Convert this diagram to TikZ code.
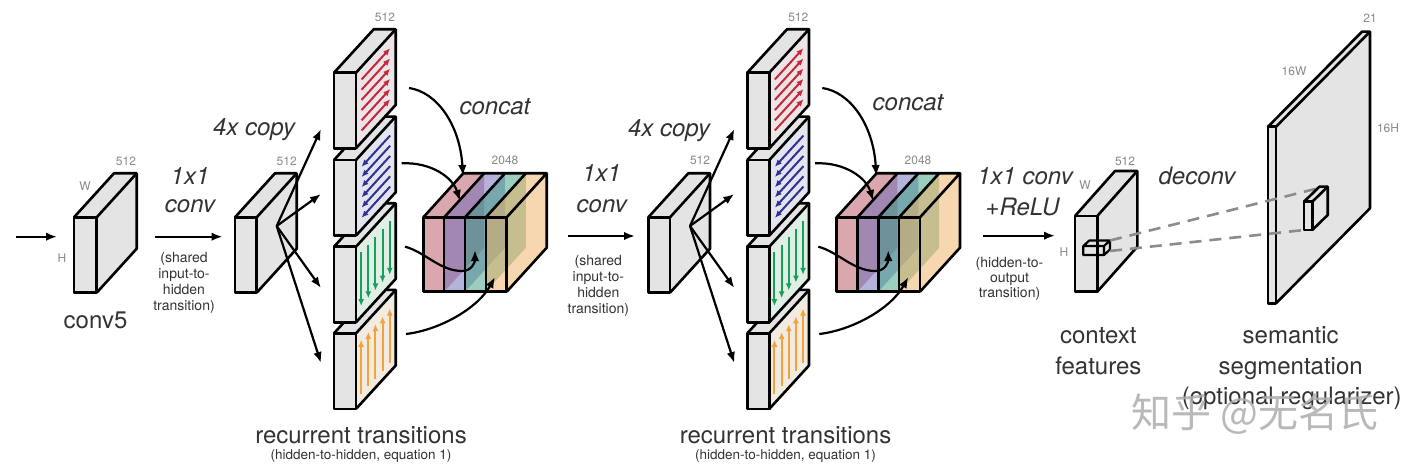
\documentclass[tikz,border=0pt]{standalone}
\usepackage{fontspec}
\setmainfont{TeX Gyre Heros}
\newfontfamily\cjkfont{Noto Sans CJK SC}
\usetikzlibrary{arrows.meta}
\definecolor{txt}{HTML}{333333}
\definecolor{lbl}{HTML}{8A8A8A}
\definecolor{facegray}{HTML}{E4E4E4}
\definecolor{sidered}{HTML}{ECE4E6}
\definecolor{sideblue}{HTML}{E4E4EE}
\definecolor{sidegreen}{HTML}{E0EEE6}
\definecolor{sideorange}{HTML}{F1EBE1}
\definecolor{arrred}{HTML}{C4283A}
\definecolor{arrblue}{HTML}{2E3192}
\definecolor{arrgreen}{HTML}{17A05A}
\definecolor{arrorange}{HTML}{F4A23C}
\definecolor{slabred}{HTML}{B85060}
\definecolor{slabblue}{HTML}{6A68B8}
\definecolor{slabgreen}{HTML}{3A9E80}
\definecolor{slaborange}{HTML}{F0B060}
\definecolor{dashgray}{HTML}{8C8C8C}

\tikzset{
 outl/.style={draw=black, line width=2.6pt, line join=round},
 conn/.style={draw=black, line width=2.2pt, -{Latex[length=11pt,width=8.5pt]}},
 mini/.style={line width=2pt, -{Latex[length=7pt,width=6pt]}},
 bigtxt/.style={font=\fontsize{24}{28}\selectfont, text=txt, inner sep=0pt},
 bigit/.style={font=\fontsize{24}{28}\selectfont\itshape, text=txt, inner sep=0pt},
 smalltxt/.style={font=\fontsize{14}{16}\selectfont, text=txt, align=center, inner sep=0pt},
 subtxt/.style={font=\fontsize{13.5}{16}\selectfont, text=txt, inner sep=0pt},
 dimtxt/.style={font=\fontsize{12}{14}\selectfont, text=lbl, inner sep=0pt},
 dashconn/.style={draw=dashgray, line width=2.6pt, dash pattern=on 12pt off 8pt},
}

% #1 x, #2 y (front top-left), #3 w, #4 h, #5 dx, #6 dy, #7 front/top fill, #8 side fill
\newcommand\mycube[8]{%
 \begin{scope}[shift={(#1,#2)}]
  \fill[#7] (0,0) -- (#3,0) -- ++(#5,#6) -- ++(-#3,0) -- cycle;
  \fill[#8] (#3,0) -- (#3,#4) -- ++(#5,#6) -- ++(0,-#4) -- cycle;
  \fill[#7] (0,0) rectangle (#3,#4);
  \draw[outl] (0,0) rectangle (#3,#4);
  \draw[outl] (0,0) -- ++(#5,#6) -- ++(#3,0) -- ++(0,#4) -- (#3,#4);
  \draw[outl] (#3,0) -- ++(#5,#6);
 \end{scope}}

\newcommand\arrowsred{\foreach \v in {0.17,0.305,0.44,0.575,0.71,0.845}
  \draw[mini,arrred] ({22+0.14*39.7},{-0.14*43.4+\v*75.6}) -- ({22+0.86*39.7},{-0.86*43.4+\v*75.6});}
\newcommand\arrowsblue{\foreach \v in {0.17,0.305,0.44,0.575,0.71,0.845}
  \draw[mini,arrblue] ({22+0.86*39.7},{-0.86*43.4+\v*75.6}) -- ({22+0.14*39.7},{-0.14*43.4+\v*75.6});}
\newcommand\arrowsgreen{\foreach \u in {0.13,0.31,0.49,0.67,0.85}
  \draw[mini,arrgreen] ({22+\u*39.7},{-\u*43.4+0.15*75.6}) -- ({22+\u*39.7},{-\u*43.4+0.86*75.6});}
\newcommand\arrowsorange{\foreach \u in {0.13,0.31,0.49,0.67,0.85}
  \draw[mini,arrorange] ({22+\u*39.7},{-\u*43.4+0.88*75.6}) -- ({22+\u*39.7},{-\u*43.4+0.16*75.6});}

% stack block: #1 x, #2 y, #3 kind
\newcommand\stk[3]{%
 \mycube{#1}{#2}{22}{75.6}{39.7}{-43.4}{facegray}{side#3}
 \begin{scope}[shift={(#1,#2)}]\csname arrows#3\endcsname\end{scope}}

% recurrent part: #1 name prefix, #2 x shift
\newcommand\recpart[2]{%
\begin{scope}[shift={(#2,0)}]
 \mycube{235}{217.3}{21.7}{75.4}{40}{-44}{facegray}{facegray}
 \coordinate (#1fan) at (276.7,226);
 \coordinate (#1t1) at (321,129);
 \coordinate (#1t2) at (321,194);
 \coordinate (#1t3) at (321,288);
 \coordinate (#1t4) at (321,363);
 \foreach \i in {1,...,4} \draw[conn] (#1fan) -- (#1t\i);
 \stk{334}{333.3}{orange}
 \stk{334}{246.7}{green}
 \stk{334}{160}{blue}
 \stk{334}{72.7}{red}
 % concat block of four translucent slabs
 \foreach \k/\col in {0/slabred,1/slabblue,2/slabgreen,3/slaborange} {
  \begin{scope}[shift={({423.3+20.85*\k},217.3)}]
   \fill[\col, fill opacity=0.5] (20.85,0) -- (20.85,74.4) -- ++(40,-44) -- ++(0,-74.4) -- cycle;
   \fill[\col, fill opacity=0.5] (0,0) -- (20.85,0) -- ++(40,-44) -- ++(-20.85,0) -- cycle;
   \fill[\col, fill opacity=0.5] (0,0) rectangle (20.85,74.4);
  \end{scope}}
 \draw[outl] (423.3,217.3) rectangle (506.7,291.7);
 \foreach \xx in {444.15,465,485.85} \draw[outl] (\xx,217.3) -- (\xx,291.7);
 \foreach \xx in {444.15,465,485.85} \draw[outl] (\xx,217.3) -- ++(40,-44);
 \draw[outl] (423.3,217.3) -- (463.3,173.3) -- (546.7,173.3) -- (506.7,217.3);
 \draw[outl] (546.7,173.3) -- (546.7,247.7) -- (506.7,291.7);
 % curved arrows into the concat block
 \coordinate (#1s1) at (409,88);    \coordinate (#1e1) at (463,176);
 \coordinate (#1s2) at (401.7,163.3); \coordinate (#1e2) at (460,201);
 \coordinate (#1s3) at (405,246.7); \coordinate (#1m3) at (462,271); \coordinate (#1e3) at (475,250);
 \coordinate (#1s4) at (406,334);   \coordinate (#1e4) at (495,277);
 \draw[conn] (#1s1) .. controls (437,92) and (460,125) .. (#1e1);
 \draw[conn] (#1s2) .. controls (432,162) and (453,178) .. (#1e2);
 \draw[conn] (#1s3) .. controls (425,252) and (440,271) .. (#1m3) .. controls (472,271) and (475,262) .. (#1e3);
 \draw[conn] (#1s4) .. controls (440,330) and (478,308) .. (#1e4);
\end{scope}}

\begin{document}
\begin{tikzpicture}[x=1pt,y=-1pt]
\fill[white] (0,0) rectangle (1423,470);
\useasboundingbox (0,0) rectangle (1423,470);

% ---------- conv5 ----------
\coordinate (inA) at (16,236.7);
\coordinate (inB) at (57,236.7);
\draw[conn] (inA) -- (inB);
\mycube{74}{217.3}{22.7}{75.4}{40}{-44}{facegray}{facegray}
\node[dimtxt] (n512a) at (126,161.7) {512};
\node[dimtxt] (nWa) at (85,186) {W};
\node[dimtxt] (nHa) at (62,258) {H};
\node[bigtxt, anchor=base] (nconv5) at (95.5,328) {conv5};

\coordinate (c1A) at (155,236.7);
\coordinate (c1B) at (222.5,236.7);
\draw[conn] (c1A) -- (c1B);
\node[bigit, anchor=base] (n1x1a) at (190,185) {1x1};
\node[bigit, anchor=base] (nconva) at (190,213) {conv};
\node[smalltxt] (nshareda) at (184,283) {(shared\\input-to-\\hidden\\transition)};

% ---------- first recurrent part ----------
\recpart{A}{0}
\node[dimtxt] (n512b) at (286.7,161.7) {512};
\node[bigit, anchor=base] (ncopya) at (254,136) {4x copy};
\node[dimtxt] (n512c) at (385,17.3) {512};
\node[bigit, anchor=base] (nconcata) at (495,115) {concat};
\node[dimtxt] (n2048a) at (505,160) {2048};
\node[bigtxt, anchor=base] (nrecA) at (361,443) {recurrent transitions};
\node[subtxt, anchor=base] (nrecsubA) at (361,459) {(hidden-to-hidden, equation 1)};

% ---------- between ----------
\coordinate (c2A) at (568,236);
\coordinate (c2B) at (635,236);
\draw[conn] (c2A) -- (c2B);
\node[bigit, anchor=base] (n1x1b) at (601.7,181.7) {1x1};
\node[bigit, anchor=base] (nconvb) at (601.7,212.7) {conv};
\node[smalltxt] (nsharedb) at (598.3,286) {(shared\\input-to-\\hidden\\transition)};

% ---------- second recurrent part ----------
\recpart{B}{413.3}
\node[dimtxt] (n512d) at (700,160.7) {512};
\node[bigit, anchor=base] (ncopyb) at (669,136.7) {4x copy};
\node[dimtxt] (n512e) at (798.3,17.3) {512};
\node[bigit, anchor=base] (nconcatb) at (908,111) {concat};
\node[dimtxt] (n2048b) at (918,160) {2048};
\node[bigtxt, anchor=base] (nrecB) at (785.5,443) {recurrent transitions};
\node[subtxt, anchor=base] (nrecsubB) at (785.5,459) {(hidden-to-hidden, equation 1)};

% ---------- output ----------
\coordinate (c3A) at (983.3,235.7);
\coordinate (c3B) at (1055,235.7);
\draw[conn] (c3A) -- (c3B);
\node[bigit, anchor=base] (n1x1c) at (1025,185) {1x1 conv};
\node[bigit, anchor=base] (nrelu) at (1022.5,216) {+ReLU};
\node[smalltxt, font=\fontsize{14}{15}\selectfont] (nhto) at (1009.5,279) {(hidden-to-\\output\\transition)};

\mycube{1075}{216}{22.3}{75.7}{40}{-45}{facegray}{facegray}
\node[dimtxt] (n512f) at (1125,161.7) {512};
\node[dimtxt] (nWb) at (1085,185) {W};
\node[dimtxt] (nHb) at (1064,251.7) {H};
\draw[line width=2.2pt, line join=round] (1083.3,246) rectangle (1104,255)
  (1083.3,246) -- ++(6,-5.5) -- ++(20.7,0) -- ++(0,9) -- (1104,255)
  (1104,246) -- ++(6,-5.5);
\node[bigtxt, anchor=base] (nctx1) at (1098.3,343.3) {context};
\node[bigtxt, anchor=base] (nctx2) at (1098.3,374.3) {features};

% segmentation plate
\mycube{1268}{126.7}{8}{176.6}{94}{-95}{facegray}{facegray}
\coordinate (dA1) at (1110,240.5);
\coordinate (dA2) at (1315,189);
\coordinate (dB1) at (1110,251);
\coordinate (dB2) at (1304,230);
\draw[dashconn] (dA1) -- (dA2);
\draw[dashconn] (dB1) -- (dB2);
\mycube{1304}{201.7}{8.3}{28.3}{15.4}{-15}{facegray}{facegray}
\node[bigit, anchor=base] (ndeconv) at (1197,185) {deconv};
\node[dimtxt] (n21) at (1370,18.3) {21};
\node[dimtxt] (n16W) at (1294,71.7) {16W};
\node[dimtxt] (n16H) at (1388,128.3) {16H};
\node[bigtxt, anchor=base] (nsem1) at (1290.7,343.3) {semantic};
\node[bigtxt, anchor=base] (nsem2) at (1290.7,374.3) {segmentation};
\node[bigtxt, anchor=base] (nsem3) at (1291.7,404) {(optional regularizer)};
\node[font=\cjkfont\fontsize{40}{44}\selectfont, text=black!32, opacity=0.85, inner sep=0pt] (nwm) at (1255,414) {知乎 @无名氏};
\end{tikzpicture}
\end{document}
